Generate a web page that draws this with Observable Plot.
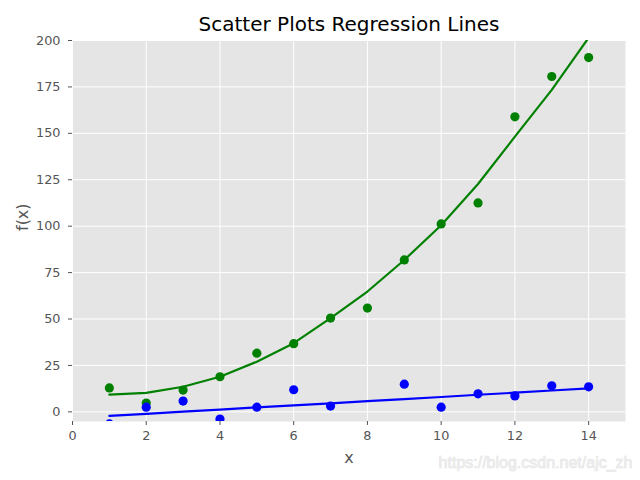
<!DOCTYPE html>
<html><head><meta charset="utf-8">
<script src="https://cdn.jsdelivr.net/npm/d3@7"></script>
<script src="https://cdn.jsdelivr.net/npm/@observablehq/plot@0.6"></script>
<style>body{margin:0;background:#fff}</style>
</head><body><div id="chart"></div>
<script>
const xs = [1, 2, 3, 4, 5, 6, 7, 8, 9, 10, 11, 12, 13, 14];
const greenPoints = [12.9, 4.7, 11.7, 18.9, 31.6, 36.7, 50.5, 55.9, 81.8, 101.2, 112.5, 158.9, 180.6, 190.8];
const bluePoints = [-6.5, 2.5, 5.8, -3.9, 2.5, 11.9, 3.1, null, 14.9, 2.5, 9.7, 8.6, 14.0, 13.5];
const greenFit = [9.3, 10.2, 13.5, 18.9, 27.0, 37.0, 50.5, 64.8, 81.8, 100.5, 122.7, 148.2, 173.4, 201.5];
const blueFit = [-2.2, -1.1, 0.1, 1.2, 2.4, 3.5, 4.6, 5.8, 6.9, 8.0, 9.2, 10.3, 11.5, 12.6];
const xTicks = [0, 2, 4, 6, 8, 10, 12, 14];
const yTicks = [0, 25, 50, 75, 100, 125, 150, 175, 200];
const titleText = ["Scatter Plots Regression Lines"];
const xLabel = ["x"];
const yLabel = ["f(x)"];
const watermark = ["https://blog.csdn.net/ajc_zh"];

const green = xs.map((x, i) => ({x, y: greenPoints[i], fit: greenFit[i]}));
const blue = xs.map((x, i) => ({x, y: bluePoints[i], fit: blueFit[i]})).filter(d => d.y !== null);
const blueLine = xs.map((x, i) => ({x, fit: blueFit[i]}));

const chart = Plot.plot({
  width: 640,
  height: 480,
  marginLeft: 72,
  marginRight: 15,
  marginTop: 40,
  marginBottom: 59,
  style: {fontFamily: "DejaVu Sans", background: "white"},
  x: {domain: [0, 15]},
  y: {domain: [-5.2, 200]},
  marks: [
    Plot.frame({fill: "#E5E5E5", stroke: null}),
    Plot.gridX(xTicks, {stroke: "white", strokeOpacity: 1, strokeWidth: 1}),
    Plot.gridY(yTicks, {stroke: "white", strokeOpacity: 1, strokeWidth: 1}),
    Plot.axisX(xTicks, {tickSize: 4, tickPadding: 5, color: "#555", fontSize: 12.8, label: null}),
    Plot.axisY(yTicks, {tickSize: 4, tickPadding: 8, color: "#555", fontSize: 12.8, label: null}),
    Plot.dot(green, {x: "x", y: "y", r: 4.6, fill: "green", stroke: null, clip: true}),
    Plot.dot(blue, {x: "x", y: "y", r: 4.6, fill: "blue", stroke: null, clip: true}),
    Plot.line(green, {x: "x", y: "fit", stroke: "green", strokeWidth: 2.2, clip: true}),
    Plot.line(blueLine, {x: "x", y: "fit", stroke: "blue", strokeWidth: 2.2, clip: true}),
    Plot.text(titleText, {text: d => d, frameAnchor: "top", lineAnchor: "middle", dy: -16, fontSize: 20, fill: "black"}),
    Plot.text(xLabel, {text: d => d, frameAnchor: "bottom", lineAnchor: "middle", dy: 36, fontSize: 16, fill: "#555"}),
    Plot.text(yLabel, {text: d => d, frameAnchor: "left", lineAnchor: "middle", dx: -50, rotate: -90, fontSize: 16, fill: "#555"}),
    Plot.text(watermark, {text: d => d, frameAnchor: "bottom-right", textAnchor: "end", lineAnchor: "middle", dx: 7, dy: 41, fontSize: 16, fontFamily: "Liberation Sans", fill: "#ececec", stroke: "#dcdcdc", strokeWidth: 0.6})
  ]
});
document.getElementById("chart").appendChild(chart);
</script>
</body></html>
